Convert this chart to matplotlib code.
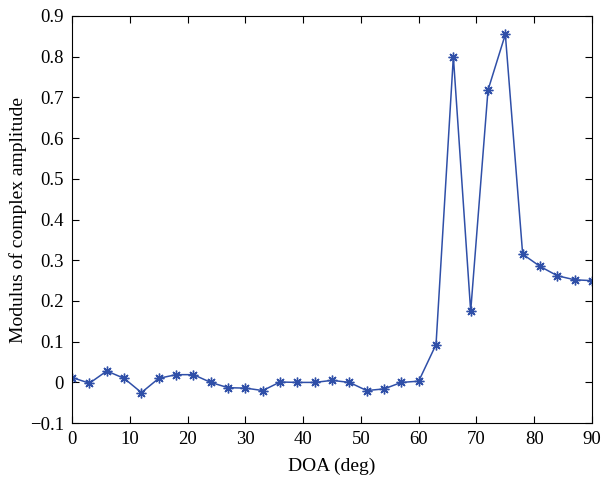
import numpy as np
import matplotlib.pyplot as plt

plt.rcParams['font.family'] = ['Liberation Serif', 'DejaVu Serif']
plt.rcParams['axes.unicode_minus'] = True

doa = np.arange(0, 91, 3)
modulus = [0.012, -0.002, 0.028, 0.010, -0.025, 0.010, 0.019, 0.019, 0.000, -0.013,
           -0.014, -0.020, 0.001, 0.000, 0.000, 0.005, 0.000, -0.020, -0.016, 0.000,
           0.003, 0.093, 0.800, 0.175, 0.718, 0.855, 0.315, 0.285, 0.262, 0.252,
           0.250]

fig = plt.figure(figsize=(6.01, 4.92), dpi=100)
ax = fig.add_axes([0.12, 0.14, 0.865, 0.8275])
ax.plot(doa, modulus, '-', color='#2f4fa8', lw=1.1,
        marker=(8, 2, 0), markersize=7, markeredgewidth=1.0)
ax.set_xlim(0, 90)
ax.set_ylim(-0.1, 0.9)
ax.set_xticks(np.arange(0, 91, 10))
ax.set_yticks(np.arange(-0.1, 0.91, 0.1))
ax.set_yticklabels(['\u22120.1', '0', '0.1', '0.2', '0.3', '0.4', '0.5', '0.6', '0.7', '0.8', '0.9'])
ax.tick_params(direction='in', top=True, right=True, labelsize=13.5, length=5, pad=6)
ax.set_xlabel('DOA (deg)', fontsize=14, labelpad=7)
ax.set_ylabel('Modulus of complex amplitude', fontsize=14, labelpad=2)
fig.savefig('out.png', dpi=100)
